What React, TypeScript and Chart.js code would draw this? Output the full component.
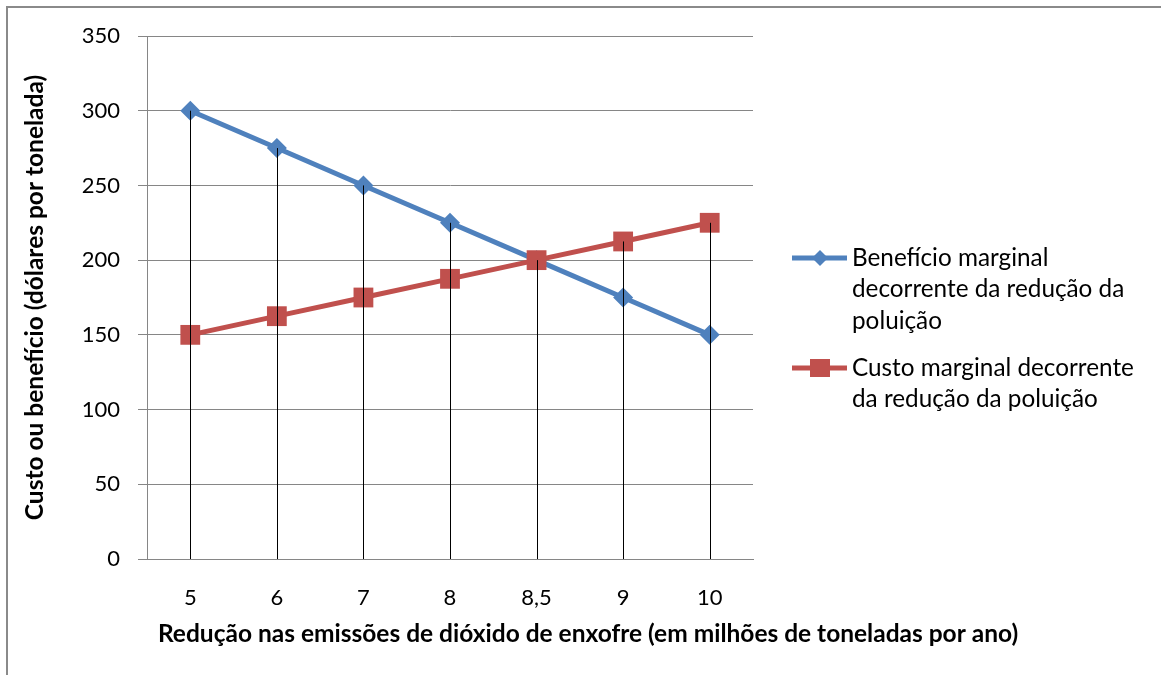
import React, { useEffect, useRef } from "react";
import { Chart, registerables } from "chart.js";

Chart.register(...registerables);

const categories = ["5", "6", "7", "8", "8,5", "9", "10"];
const beneficio = [300, 275, 250, 225, 200, 175, 150];
const custo = [150, 162.5, 175, 187.5, 200, 212.5, 225];
const yMin = 0;
const yMax = 350;
const yStep = 50;
const beneficioLabel = ["Benefício marginal", "decorrente da redução da", "poluição"];
const custoLabel = ["Custo marginal decorrente", "da redução da poluição"];
const xTitle = "Redução nas emissões de dióxido de enxofre (em milhões de toneladas por ano)";
const yTitle = "Custo ou benefício (dólares por tonelada)";

const BLUE = "#4F81BD";
const RED = "#C0504D";
const GRID = "#868686";
const FONT = "Lato, 'Liberation Sans', sans-serif";

const framePlugin = {
  id: "frame",
  beforeDraw(chart: any) {
    const ctx = chart.ctx;
    ctx.save();
    ctx.fillStyle = "#ffffff";
    ctx.fillRect(0, 0, chart.width, chart.height);
    ctx.strokeStyle = "#8a8a8a";
    ctx.lineWidth = 2;
    ctx.beginPath();
    ctx.moveTo(7, chart.height);
    ctx.lineTo(7, 7);
    ctx.lineTo(chart.width, 7);
    ctx.stroke();
    ctx.restore();
  },
};

const dropLinesPlugin = {
  id: "dropLines",
  afterDatasetsDraw(chart: any) {
    const ctx = chart.ctx;
    const xs = chart.scales.x;
    const ys = chart.scales.y;
    ctx.save();
    ctx.strokeStyle = "#000000";
    ctx.lineWidth = 1;
    categories.forEach((_, i) => {
      let top = -Infinity;
      chart.data.datasets.forEach((ds: any) => {
        top = Math.max(top, ds.data[i]);
      });
      const x = Math.round(xs.getPixelForValue(i)) + 0.5;
      ctx.beginPath();
      ctx.moveTo(x, ys.getPixelForValue(top));
      ctx.lineTo(x, ys.getPixelForValue(0));
      ctx.stroke();
    });
    ctx.restore();
  },
};

const legendPlugin = {
  id: "customLegend",
  afterDraw(chart: any) {
    const ctx = chart.ctx;
    ctx.save();
    ctx.font = `24.3px ${FONT}`;
    ctx.fillStyle = "#000000";
    ctx.textBaseline = "middle";
    ctx.textAlign = "left";
    const items = [
      { lines: beneficioLabel, color: BLUE, marker: "diamond", y: 258 },
      { lines: custoLabel, color: RED, marker: "square", y: 368 },
    ];
    const lineH = 31.5;
    items.forEach((it) => {
      ctx.strokeStyle = it.color;
      ctx.lineWidth = 5;
      ctx.beginPath();
      ctx.moveTo(792, it.y);
      ctx.lineTo(847, it.y);
      ctx.stroke();
      ctx.fillStyle = it.color;
      ctx.beginPath();
      if (it.marker === "diamond") {
        const r = 8;
        ctx.moveTo(820 - r, it.y);
        ctx.lineTo(820, it.y - r);
        ctx.lineTo(820 + r, it.y);
        ctx.lineTo(820, it.y + r);
        ctx.closePath();
      } else {
        ctx.rect(810, it.y - 9, 20, 18);
      }
      ctx.fill();
      ctx.fillStyle = "#000000";
      it.lines.forEach((t, j) => {
        ctx.fillText(t, 852, it.y + j * lineH);
      });
    });
    // x axis title
    ctx.font = `bold 24.5px ${FONT}`;
    ctx.textAlign = "center";
    ctx.fillText(xTitle, 588, 634);
    ctx.restore();
  },
};

export default function App() {
  const ref = useRef<HTMLCanvasElement | null>(null);
  useEffect(() => {
    document.body.style.margin = "0";
    if (!ref.current) return;
    const chart = new Chart(ref.current, {
      type: "line",
      data: {
        labels: categories,
        datasets: [
          {
            label: beneficioLabel.join(" "),
            data: beneficio,
            borderColor: BLUE,
            backgroundColor: BLUE,
            borderWidth: 5,
            pointStyle: "rectRot",
            pointRadius: 10,
            pointBorderWidth: 0,
            tension: 0,
            order: 1,
          },
          {
            label: custoLabel.join(" "),
            data: custo,
            borderColor: RED,
            backgroundColor: RED,
            borderWidth: 5,
            pointStyle: "rect",
            pointRadius: 14,
            pointBorderWidth: 0,
            tension: 0,
            order: 0,
          },
        ],
      },
      options: {
        animation: false,
        responsive: false,
        maintainAspectRatio: false,
        layout: { padding: { left: 0, top: 36, right: 408, bottom: 0 } },
        plugins: {
          legend: { display: false },
          tooltip: { enabled: false },
        },
        scales: {
          x: {
            offset: true,
            grid: { display: false, drawTicks: false },
            border: { display: true, color: GRID, width: 1 },
            ticks: {
              color: "#000000",
              font: { family: FONT, size: 22 },
              padding: 26,
              maxRotation: 0,
            },
            afterFit(s: any) {
              s.height = 116;
            },
          },
          y: {
            min: yMin,
            max: yMax,
            grid: { color: GRID, tickLength: 9, drawTicks: true },
            border: { display: true, color: GRID, width: 1 },
            ticks: {
              stepSize: yStep,
              color: "#000000",
              font: { family: FONT, size: 22 },
              padding: 18,
            },
            title: {
              display: true,
              text: yTitle,
              color: "#000000",
              font: { family: FONT, size: 24.5, weight: "bold" },
              padding: { top: 20, bottom: 0 },
            },
            afterFit(s: any) {
              s.width = 147;
            },
          },
        },
      },
      plugins: [framePlugin, dropLinesPlugin, legendPlugin],
    });
    return () => chart.destroy();
  }, []);
  return (
    <div style={{ width: 1161, height: 675 }}>
      <canvas ref={ref} width={1161} height={675} style={{ display: "block" }} />
    </div>
  );
}
